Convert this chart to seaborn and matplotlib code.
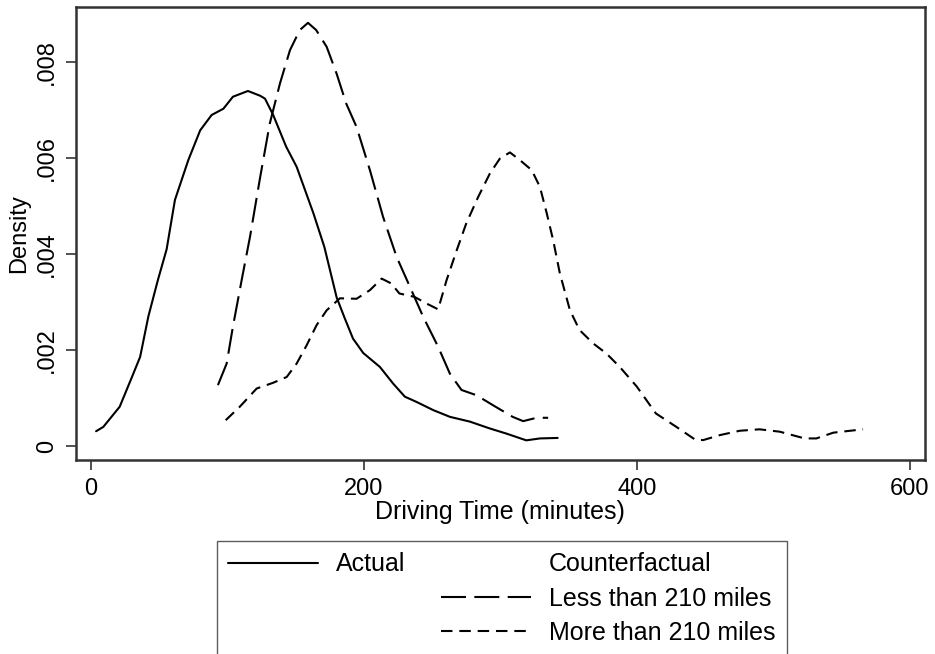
import numpy as np
import pandas as pd
import matplotlib
matplotlib.use("Agg")
import matplotlib.pyplot as plt
import seaborn as sns
from matplotlib.lines import Line2D

# values (kernel densities)
actual_x = [3.7, 9, 21, 30, 36, 42, 49, 55.4, 61.5, 71.3, 80, 88.4, 97, 104, 115, 124, 127.5,
            133.5, 143, 150.7, 163, 171, 180, 186, 192, 199.5, 211.7, 221.5, 230, 238.6,
            250.8, 263, 277.7, 292, 304.5, 319, 329, 342]
actual_y = [0.00031, 0.0004, 0.00082, 0.00144, 0.00186, 0.0027, 0.00346, 0.0041, 0.00513,
            0.00596, 0.00658, 0.0069, 0.00703, 0.00728, 0.0074, 0.0073, 0.00724, 0.0069,
            0.00624, 0.00582, 0.00485, 0.00415, 0.0031, 0.00266, 0.00224, 0.00194, 0.00165,
            0.0013, 0.00103, 0.00092, 0.00075, 0.00061, 0.00051, 0.00037, 0.00026, 0.00012,
            0.00016, 0.00017]

less_x = [93, 99.4, 104, 110.4, 116.5, 124, 131, 138.5, 145.8, 153, 159, 165, 172.7, 180, 187,
          194.6, 204.4, 214, 224, 233.7, 243.5, 254.4, 263, 271.5, 282.5, 294.7, 309, 316.7,
          326.5, 335]
less_y = [0.00127, 0.00172, 0.00249, 0.00346, 0.00436, 0.00561, 0.00672, 0.00756, 0.00825,
          0.00867, 0.00882, 0.00867, 0.00832, 0.00776, 0.00714, 0.00665, 0.00575, 0.00478,
          0.00394, 0.00332, 0.00269, 0.00207, 0.00151, 0.00117, 0.00106, 0.00085, 0.00061,
          0.00052, 0.00059, 0.00059]

more_x = [98.7, 109, 121.4, 133.5, 143.4, 150.7, 158, 165.3, 172.7, 182.4, 194.6, 204.4, 213,
          220, 226, 237, 246, 254.4, 260.6, 268, 275, 283.7, 292.3, 299.6, 307, 314.3, 323,
          329, 334, 338.7, 343.6, 351, 358, 368, 377.7, 387.5, 400, 414, 429, 442.5, 448.6,
          461, 475.5, 490, 504.8, 523, 531.6, 544, 565.8]
more_y = [0.00054, 0.00082, 0.0012, 0.00132, 0.00144, 0.00172, 0.0021, 0.00252, 0.00283,
          0.00308, 0.00307, 0.00325, 0.00349, 0.00339, 0.00318, 0.00311, 0.00297, 0.00285,
          0.00346, 0.00408, 0.00464, 0.00519, 0.00568, 0.00599, 0.00612, 0.00596, 0.00575,
          0.0054, 0.00485, 0.00429, 0.0036, 0.00283, 0.00242, 0.00214, 0.00193, 0.00165,
          0.00124, 0.00068, 0.0004, 0.00014, 0.000125, 0.00023, 0.00032, 0.00035, 0.0003,
          0.00016, 0.00016, 0.00028, 0.00035]

series_names = ["Actual", "Less than 210 miles", "More than 210 miles"]
x_ticks = [0, 200, 400, 600]
y_ticks = [0, 0.002, 0.004, 0.006, 0.008]
y_tick_labels = ["0", ".002", ".004", ".006", ".008"]

df = pd.concat([
    pd.DataFrame({"time": actual_x, "density": actual_y, "serie": series_names[0]}),
    pd.DataFrame({"time": less_x, "density": less_y, "serie": series_names[1]}),
    pd.DataFrame({"time": more_x, "density": more_y, "serie": series_names[2]}),
])

sns.set_style("white")
plt.rcParams["font.family"] = ["Liberation Sans", "DejaVu Sans"]
plt.rcParams["text.color"] = "black"
plt.rcParams["axes.labelcolor"] = "black"
plt.rcParams["xtick.color"] = "black"
plt.rcParams["ytick.color"] = "black"

# dash patterns (in units of line width)
dash_styles = {series_names[0]: "", series_names[1]: (12, 4), series_names[2]: (5.5, 3.3)}

fig = plt.figure(figsize=(9.35, 6.54), dpi=100)
ax = fig.add_axes([0.0813, 0.2966, 0.9077, 0.6927])
sns.lineplot(data=df, x="time", y="density", style="serie", dashes=dash_styles,
             color="black", linewidth=1.5, sort=False, estimator=None, legend=False, ax=ax)

ax.set_xlim(-11, 611)
ax.set_ylim(-0.00029, 0.00915)
ax.set_xticks(x_ticks)
ax.set_yticks(y_ticks)
ax.set_yticklabels(y_tick_labels, rotation=90, va="center")
ax.tick_params(axis="both", direction="out", length=7, width=1.2, color="#333333",
               labelsize=17, bottom=True, left=True, pad=6)
ax.set_xlabel("Driving Time (minutes)", fontsize=18, labelpad=0)
ax.set_ylabel("Density", fontsize=17, labelpad=4)
for sp in ax.spines.values():
    sp.set_color("#333333")
    sp.set_linewidth(1.8)

# legend like stata: 2 columns, column-first filling
blank = Line2D([], [], linestyle="none")
h_actual = Line2D([], [], color="black", linewidth=1.5)
h_less = Line2D([], [], color="black", linewidth=1.5, dashes=dash_styles[series_names[1]])
h_more = Line2D([], [], color="black", linewidth=1.5, dashes=dash_styles[series_names[2]])
handles = [h_actual, blank, blank, blank, h_less, h_more]
labels = ["Actual", "", "", "Counterfactual", series_names[1], series_names[2]]
leg = fig.legend(handles, labels, ncol=2, loc="upper left",
                 bbox_to_anchor=(217 / 935, 1 - 541 / 654), borderaxespad=0, fontsize=18,
                 frameon=True, fancybox=False, edgecolor="#333333",
                 handlelength=3.6, handletextpad=0.7, columnspacing=1.45,
                 labelspacing=0.41, borderpad=0.45)
leg.get_frame().set_linewidth(1.0)

fig.savefig("out.png", dpi=100)
